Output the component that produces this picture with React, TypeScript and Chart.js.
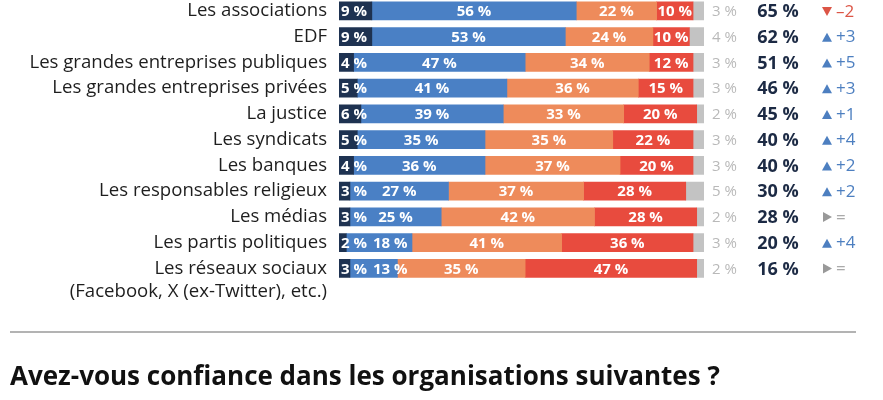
import React, { useEffect, useRef } from "react";
import { Chart, registerables } from "chart.js";
Chart.register(...registerables);

const categories = [
  "Les associations",
  "EDF",
  "Les grandes entreprises publiques",
  "Les grandes entreprises privées",
  "La justice",
  "Les syndicats",
  "Les banques",
  "Les responsables religieux",
  "Les médias",
  "Les partis politiques",
  "Les réseaux sociaux",
];
const subLabels = ["", "", "", "", "", "", "", "", "", "", "(Facebook, X (ex-Twitter), etc.)"];

const tresConfiance = [9, 9, 4, 5, 6, 5, 4, 3, 3, 2, 3];
const plutotConfiance = [56, 53, 47, 41, 39, 35, 36, 27, 25, 18, 13];
const plutotPasConfiance = [22, 24, 34, 36, 33, 35, 37, 37, 42, 41, 35];
const pasDuToutConfiance = [10, 10, 12, 15, 20, 22, 20, 28, 28, 36, 47];
const nsp = [3, 4, 3, 3, 2, 3, 3, 5, 2, 3, 2];
const totalConfiance = [65, 62, 51, 46, 45, 40, 40, 30, 28, 20, 16];
const evolution = [-2, 3, 5, 3, 1, 4, 2, 2, 0, 4, 0];

const seriesNames = ["Très confiance", "Plutôt confiance", "Plutôt pas confiance", "Pas du tout confiance", "NSP"];
const seriesColors = ["#1e3251", "#4a80c5", "#ee8b5b", "#e84b3e", "#c3c3c3"];

const FONT = "'Open Sans', sans-serif";
const LABEL_SIZE = 18.6;

export default function App() {
  const ref = useRef<HTMLCanvasElement>(null);

  useEffect(() => {
    if (!ref.current) return;
    const allSeries = [tresConfiance, plutotConfiance, plutotPasConfiance, pasDuToutConfiance, nsp];

    const labelsPlugin = {
      id: "segLabels",
      afterDatasetsDraw(chart: any) {
        const ctx = chart.ctx as CanvasRenderingContext2D;
        const area = chart.chartArea;
        const yScale = chart.scales.y;
        const metas = [0, 1, 2, 3, 4].map((i) => chart.getDatasetMeta(i));
        ctx.save();
        ctx.textBaseline = "middle";
        for (let i = 0; i < categories.length; i++) {
          let prevRight = -Infinity;
          ctx.font = `bold 15px ${FONT}`;
          let yRow = 0;
          for (let d = 0; d < 4; d++) {
            const el = metas[d].data[i];
            const p = el.getProps(["x", "base", "y"], true);
            yRow = p.y;
            const text = `${allSeries[d][i]} %`;
            const w = ctx.measureText(text).width;
            const lo = Math.min(p.x, p.base);
            const hi = Math.max(p.x, p.base);
            let left: number;
            if (d === 0) left = lo + 2;
            else left = Math.max((lo + hi) / 2 - w / 2, prevRight + 6);
            ctx.fillStyle = "#ffffff";
            ctx.textAlign = "left";
            ctx.fillText(text, left, yRow + 1);
            prevRight = left + w;
          }
          // NSP outside
          ctx.font = `15px ${FONT}`;
          ctx.fillStyle = "#b9b9b9";
          ctx.textAlign = "left";
          ctx.fillText(`${nsp[i]} %`, area.right + 8, yRow + 1);
          // total
          ctx.font = `bold 18px ${FONT}`;
          ctx.fillStyle = "#1c2a44";
          ctx.textAlign = "center";
          ctx.fillText(`${totalConfiance[i]} %`, area.right + 74, yRow + 1);
          // evolution
          const ev = evolution[i];
          const cx = area.right + 123;
          let col = "#999999";
          ctx.beginPath();
          if (ev > 0) {
            col = "#4d7fc0";
            ctx.moveTo(cx - 5, yRow + 5);
            ctx.lineTo(cx + 5, yRow + 5);
            ctx.lineTo(cx, yRow - 4);
          } else if (ev < 0) {
            col = "#dc5546";
            ctx.moveTo(cx - 5, yRow - 4);
            ctx.lineTo(cx + 5, yRow - 4);
            ctx.lineTo(cx, yRow + 5);
          } else {
            ctx.moveTo(cx - 4, yRow - 5);
            ctx.lineTo(cx - 4, yRow + 5);
            ctx.lineTo(cx + 5, yRow);
          }
          ctx.closePath();
          ctx.fillStyle = col;
          ctx.fill();
          ctx.font = `17px ${FONT}`;
          ctx.textAlign = "left";
          const evText = ev > 0 ? `+${ev}` : ev < 0 ? `–${Math.abs(ev)}` : "=";
          ctx.fillStyle = ev === 0 ? "#aaaaaa" : col;
          ctx.fillText(evText, area.right + 132, yRow + 1);

          // second line of category label
          if (subLabels[i]) {
            ctx.font = `${LABEL_SIZE}px ${FONT}`;
            ctx.fillStyle = "#1e1e1e";
            ctx.textAlign = "right";
            ctx.fillText(subLabels[i], area.left - 12, yScale.getPixelForValue(i) + 23);
          }
        }
        ctx.restore();
      },
    };

    const chart = new Chart(ref.current, {
      type: "bar",
      data: {
        labels: categories,
        datasets: allSeries.map((data, k) => ({
          label: seriesNames[k],
          data,
          backgroundColor: seriesColors[k],
          borderWidth: 0,
          barThickness: 18,
        })),
      },
      options: {
        indexAxis: "y",
        responsive: false,
        animation: false,
        layout: { padding: { top: 0, bottom: 118.75, left: 0, right: 179 } },
        plugins: {
          legend: { display: false },
          tooltip: { enabled: false },
          title: { display: false },
        },
        scales: {
          x: {
            stacked: true,
            min: 0,
            max: 100,
            display: false,
          },
          y: {
            stacked: true,
            grid: { display: false, drawTicks: false },
            border: { display: false },
            ticks: {
              padding: 12,
              color: "#1e1e1e",
              font: { family: FONT, size: LABEL_SIZE },
            },
            afterFit: (scale: any) => {
              scale.width = 339;
              scale.paddingTop = 0;
              scale.paddingBottom = 0;
            },
          },
        },
      },
      plugins: [labelsPlugin],
    });
    return () => chart.destroy();
  }, []);

  return (
    <div style={{ position: "absolute", left: 0, top: 0, width: 883, height: 400, overflow: "hidden", background: "#fff" }}>
      <canvas ref={ref} width={883} height={402} style={{ position: "absolute", left: 0, top: -2, width: 883, height: 402 }} />
      <div style={{ position: "absolute", left: 10, top: 331, width: 846, borderTop: "2px solid #b3b3b3" }} />
      <div
        style={{
          position: "absolute",
          left: 10,
          top: 357,
          fontFamily: FONT,
          fontWeight: 700,
          fontSize: 26,
          lineHeight: "36px",
          color: "#111",
          whiteSpace: "nowrap",
        }}
      >
        Avez-vous confiance dans les organisations suivantes ?
      </div>
    </div>
  );
}
